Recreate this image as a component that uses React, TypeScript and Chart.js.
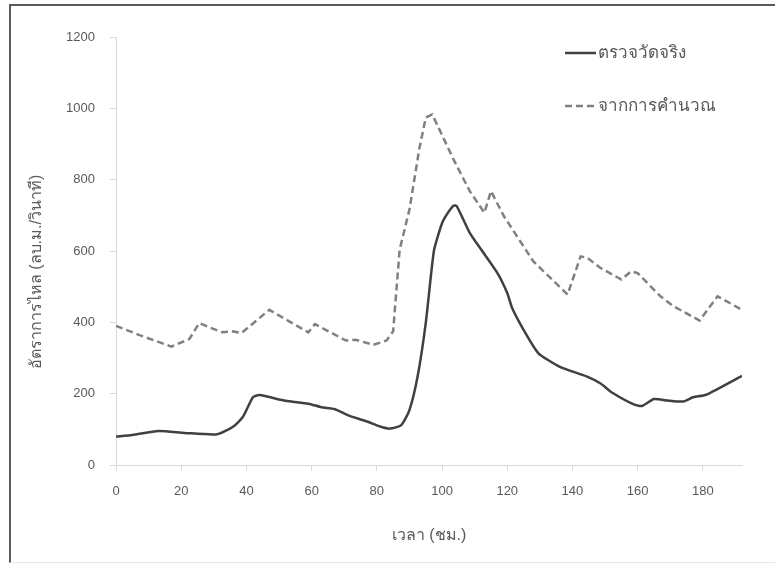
import React, { useEffect, useRef } from 'react';
import { Chart, registerables } from 'chart.js';

Chart.register(...registerables);

// Time (hours) and flow (m³/s)
const measuredHours = [0, 5, 13, 21, 31, 36, 39, 42, 44, 52, 59, 63, 67, 71, 77, 81, 84, 87.5, 90, 92.5, 95, 97.5, 99.5, 100.5, 103.5, 104.5, 108.5, 112, 117, 120, 121.5, 125, 129.5, 136, 144.5, 148.5, 152.5, 159, 161.5, 165, 169, 174, 177, 181, 192];
const measuredFlow = [80, 84, 95, 90, 86, 108, 136, 190, 196, 180, 172, 162, 157, 140, 122, 108, 102, 112, 154, 248, 398, 600, 665, 688, 727, 726, 651, 604, 538, 482, 440, 379, 314, 276, 248, 229, 201, 169, 166, 185, 181, 178, 190, 197, 250];

const calculatedHours = [0, 7, 17, 22.5, 25.5, 32.5, 35.5, 38.5, 47, 59, 61, 70.5, 73.5, 79, 83, 85, 87, 90, 93, 95, 97, 103.5, 108.5, 113, 115, 119, 128, 138.5, 142.5, 144.5, 148.5, 155, 158, 160, 167, 171, 179, 184.5, 192];
const calculatedFlow = [390, 365, 332, 353, 398, 372, 375, 370, 435, 372, 395, 349, 351, 337, 349, 375, 604, 716, 885, 974, 983, 857, 768, 707, 768, 697, 571, 478, 585, 581, 553, 520, 543, 538, 473, 445, 405, 473, 435];

const seriesLabels = ['ตรวจวัดจริง', 'จากการคำนวณ'];
const xAxisTitle = 'เวลา (ชม.)';
const yAxisTitle = 'อัตราการไหล (ลบ.ม./วินาที)';
const xMin = 0;
const xMax = 192;
const xStep = 20;
const yMin = 0;
const yMax = 1200;
const yStep = 200;

const FONT = "'Liberation Sans', Arial, 'Noto Sans', sans-serif";
const TEXT = '#595959';
const AXIS = '#d9d9d9';

const stackedLegend = {
  id: 'stackedLegend',
  afterDraw(chart: any) {
    const ctx = chart.ctx;
    const area = chart.chartArea;
    const rows = [53, 106];
    chart.data.datasets.forEach((ds: any, i: number) => {
      const y = rows[i];
      const x0 = area.left + 449;
      ctx.save();
      ctx.strokeStyle = ds.borderColor;
      ctx.lineWidth = ds.borderWidth;
      ctx.setLineDash(ds.borderDash || []);
      ctx.beginPath();
      ctx.moveTo(x0, y);
      ctx.lineTo(x0 + 31, y);
      ctx.stroke();
      ctx.setLineDash([]);
      ctx.fillStyle = TEXT;
      ctx.font = `17px ${FONT}`;
      ctx.textBaseline = 'middle';
      ctx.textAlign = 'left';
      ctx.fillText(ds.label, x0 + 33, y);
      ctx.restore();
    });
  },
};

const yTitlePlugin = {
  id: 'yTitle',
  afterDraw(chart: any) {
    const ctx = chart.ctx;
    const area = chart.chartArea;
    ctx.save();
    ctx.translate(37, area.top + (area.bottom - area.top) / 2 + 21);
    ctx.rotate(-Math.PI / 2);
    ctx.fillStyle = TEXT;
    ctx.font = `16px ${FONT}`;
    ctx.textAlign = 'center';
    ctx.textBaseline = 'middle';
    ctx.fillText(yAxisTitle, 0, 0);
    ctx.restore();
  },
};

export default function App() {
  const ref = useRef<HTMLCanvasElement | null>(null);

  useEffect(() => {
    if (!ref.current) return;
    const chart = new Chart(ref.current, {
      type: 'line',
      data: {
        datasets: [
          {
            label: seriesLabels[0],
            data: measuredHours.map((h, i) => ({ x: h, y: measuredFlow[i] })),
            borderColor: '#404040',
            borderWidth: 2.5,
            pointRadius: 0,
            tension: 0.2,
            fill: false,
          },
          {
            label: seriesLabels[1],
            data: calculatedHours.map((h, i) => ({ x: h, y: calculatedFlow[i] })),
            borderColor: '#808080',
            borderWidth: 2.5,
            borderDash: [7, 4],
            pointRadius: 0,
            tension: 0,
            fill: false,
          },
        ],
      },
      options: {
        animation: false,
        responsive: true,
        maintainAspectRatio: false,
        layout: { padding: { top: 37, left: 0, right: 33, bottom: 0 } },
        plugins: {
          legend: { display: false },
          tooltip: { enabled: false },
        },
        scales: {
          x: {
            type: 'linear',
            min: xMin,
            max: xMax,
            ticks: {
              stepSize: xStep,
              includeBounds: false,
              color: TEXT,
              font: { family: FONT, size: 13 },
              padding: 13,
              maxRotation: 0,
              callback: (v: any) => String(v),
            },
            grid: { drawOnChartArea: false, drawTicks: true, tickLength: 6, color: AXIS },
            border: { display: true, color: AXIS, width: 1 },
            title: {
              display: true,
              text: xAxisTitle,
              color: TEXT,
              font: { family: FONT, size: 16 },
              padding: { top: 0, bottom: 18 },
            },
            afterFit: (s: any) => { s.height = 98; },
          },
          y: {
            min: yMin,
            max: yMax,
            ticks: {
              stepSize: yStep,
              color: TEXT,
              font: { family: FONT, size: 13 },
              padding: 15,
              callback: (v: any) => String(v),
            },
            grid: { drawOnChartArea: false, drawTicks: true, tickLength: 6, color: AXIS },
            border: { display: true, color: AXIS, width: 1 },
            title: { display: false },
            afterFit: (s: any) => { s.width = 116; },
          },
        },
      },
      plugins: [stackedLegend, yTitlePlugin],
    } as any);
    return () => chart.destroy();
  }, []);

  return (
    <div style={{ position: 'absolute', left: 0, top: 0, width: 775, height: 563, background: '#fff', overflow: 'hidden' }}>
      <div
        style={{
          position: 'absolute',
          left: 9,
          top: 4,
          right: -2,
          bottom: 0,
          borderTop: '2px solid #5a5a5a',
          borderLeft: '2px solid #5a5a5a',
          borderBottom: '1px solid #e6e6e6',
          boxSizing: 'border-box',
        }}
      />
      <div style={{ position: 'absolute', left: 0, top: 0, width: 775, height: 563 }}>
        <canvas ref={ref} />
      </div>
    </div>
  );
}
